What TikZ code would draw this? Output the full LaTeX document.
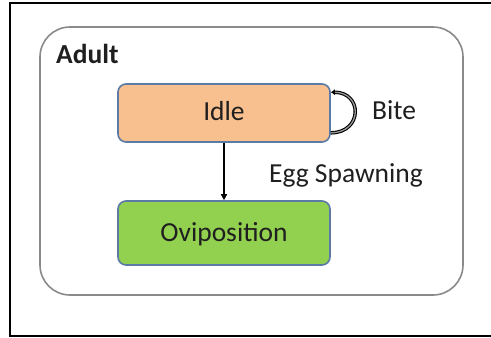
\documentclass[tikz,border=0pt]{standalone}
\usepackage{fontspec}
\setmainfont{Carlito}
\usetikzlibrary{arrows.meta}

\definecolor{stateorange}{HTML}{F8BF8F}
\definecolor{stategreen}{HTML}{92D050}
\definecolor{stateborder}{HTML}{5B7BA6}
\definecolor{groupgray}{HTML}{8A8A8A}

\tikzset{
  label font/.style={font=\fontsize{27.5}{33}\selectfont, text=black!88},
  statebox/.style={draw=stateborder, line width=1.6pt, rounded corners=8pt,
    minimum width=212pt, inner sep=0pt, label font},
  tagtext/.style={inner sep=0pt, anchor=base west, label font},
  flow/.style={line width=1.4pt, -{Triangle[length=6pt,width=6pt]}},
  selfloop/.style={line width=1.1pt, double=black!40, double distance=1.3pt,
    {Latex[length=4pt,width=6pt]}-},
}

\begin{document}
\begin{tikzpicture}[x=1pt,y=-1pt]
  % page area
  \fill[white] (0,0) rectangle (491,338);
  \useasboundingbox (0,0) rectangle (491,338);

  % outer frame, open on the right
  \draw[line width=2pt, black] (492,3) -- (10,3) -- (10,336) -- (492,336);

  % state group "Adult"
  \draw[groupgray, line width=1.6pt, rounded corners=30pt] (40,27) rectangle (463,295);
  \node[tagtext, font=\fontsize{27.5}{33}\selectfont\bfseries] (adult) at (56,63) {Adult};

  % states
  \node[statebox, fill=stateorange, minimum height=58pt,
        text height=20pt, text depth=6pt] (idle) at (224,113) {Idle};
  \node[statebox, fill=stategreen, minimum height=64pt,
        text height=20pt, text depth=4pt] (ovi) at (224,233) {Oviposition};

  % transitions
  \draw[flow] (idle) -- (ovi);
  \draw[selfloop]
    ([yshift=-9pt]idle.north east) .. controls +(32pt,0) and +(32pt,0) .. ([yshift=10pt]idle.south east);

  % transition labels
  \node[tagtext] (bite) at (372,119.5) {Bite};
  \node[tagtext] (egg) at (269,182.5) {Egg Spawning};
\end{tikzpicture}
\end{document}
